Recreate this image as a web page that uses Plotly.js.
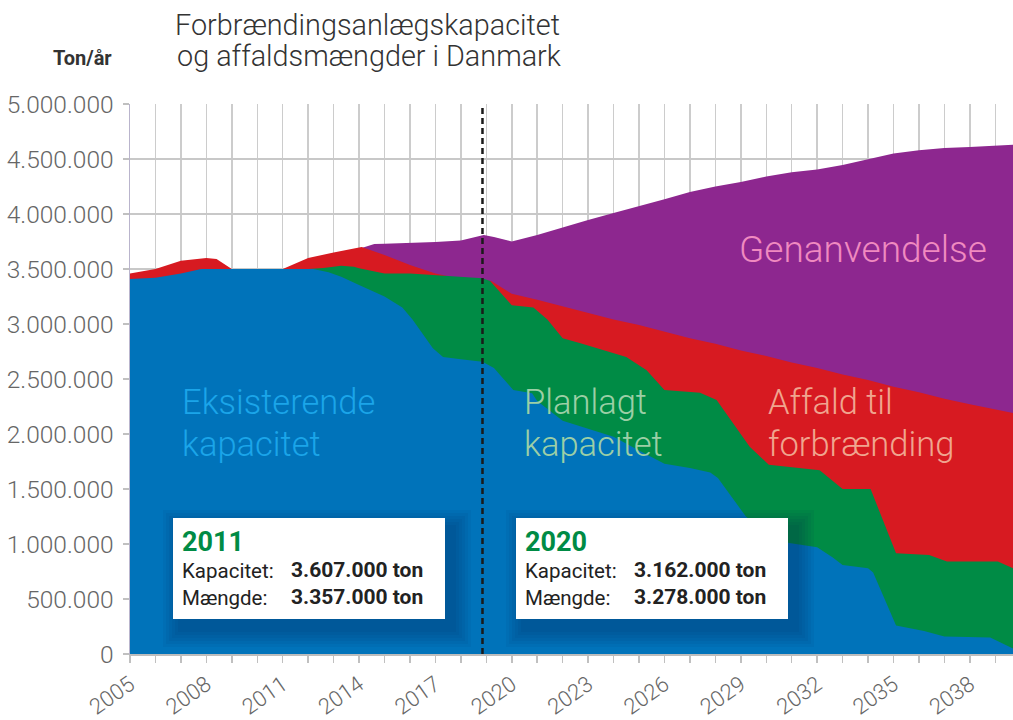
<!DOCTYPE html>
<html>
<head>
<meta charset="utf-8">
<script src="https://cdn.plot.ly/plotly-3.0.1.min.js"></script>
<style>html,body{margin:0;padding:0;background:#fff;}#chart{width:1013px;height:720px;}</style>
</head>
<body>
<div id="chart"></div>
<script>
// ---- Data (values in tons per year) ----
const existingYears = [2005, 2006, 2007, 2007.8, 2008, 2012.2, 2012.8, 2013.3, 2014, 2015, 2015.7, 2016.1, 2016.9, 2017.3, 2018, 2018.85, 2019.3, 2020.06, 2020.8, 2021, 2022, 2023, 2024, 2025, 2026, 2027, 2027.8, 2028.1, 2029.2, 2030.3, 2030.9, 2032.0, 2032.6, 2033.0, 2034.0, 2034.2, 2035.1, 2036.2, 2037.0, 2038.8, 2039.7];
const existingCap = [3410000, 3420000, 3460000, 3500000, 3500000, 3500000, 3470000, 3430000, 3355000, 3250000, 3150000, 3040000, 2780000, 2700000, 2680000, 2657000, 2600000, 2400000, 2370000, 2300000, 2120000, 2050000, 1975000, 1850000, 1730000, 1690000, 1650000, 1600000, 1250000, 1040000, 1010000, 970000, 880000, 810000, 780000, 740000, 260000, 210000, 160000, 150000, 50000];

const totalCapYears = [2012.0, 2012.6, 2013.3, 2013.8, 2014, 2015, 2016, 2017, 2018, 2018.85, 2019.15, 2020.0, 2020.85, 2021.4, 2022.0, 2022.7, 2024.5, 2025.3, 2026.0, 2027.4, 2028.05, 2029.35, 2030.1, 2032.1, 2033.0, 2034.1, 2035.1, 2036.4, 2037.1, 2039.1, 2039.7];
const totalCap = [3500000, 3510000, 3530000, 3520000, 3506000, 3460000, 3460000, 3445000, 3424000, 3415000, 3390000, 3170000, 3150000, 3040000, 2870000, 2825000, 2700000, 2580000, 2400000, 2375000, 2310000, 1885000, 1720000, 1670000, 1500000, 1500000, 915000, 900000, 840000, 840000, 780000];

const wasteYears = [2005, 2006, 2007, 2008, 2008.4, 2009, 2011, 2012, 2013, 2014.1, 2015, 2016, 2017, 2018, 2019.2, 2020, 2021, 2022, 2023, 2024, 2025, 2026, 2027, 2028, 2029, 2030, 2031, 2032, 2033, 2034, 2035, 2036, 2037, 2038, 2039, 2039.7];
const wasteIncineration = [3460000, 3500000, 3575000, 3600000, 3590000, 3500000, 3500000, 3600000, 3650000, 3700000, 3627000, 3536000, 3460000, 3410000, 3390000, 3275000, 3220000, 3160000, 3100000, 3040000, 2990000, 2930000, 2870000, 2820000, 2760000, 2710000, 2650000, 2600000, 2540000, 2490000, 2430000, 2380000, 2320000, 2270000, 2220000, 2190000];

const recycleYears = [2014.1, 2014.6, 2015, 2016, 2017, 2018, 2018.4, 2018.9, 2019.3, 2020, 2021, 2022, 2023, 2024, 2025, 2026, 2027, 2028, 2029, 2030, 2031, 2032, 2033, 2034, 2035, 2036, 2037, 2038, 2039, 2039.7];
const wasteTotal = [3690000, 3727000, 3730000, 3735000, 3745000, 3760000, 3780000, 3810000, 3790000, 3750000, 3810000, 3880000, 3945000, 4010000, 4070000, 4135000, 4200000, 4250000, 4290000, 4340000, 4380000, 4405000, 4445000, 4500000, 4550000, 4580000, 4600000, 4610000, 4625000, 4630000];

const tickYears = [2005,2006,2007,2008,2009,2010,2011,2012,2013,2014,2015,2016,2017,2018,2019,2020,2021,2022,2023,2024,2025,2026,2027,2028,2029,2030,2031,2032,2033,2034,2035,2036,2037,2038,2039];
const labelYears = [2005, 2008, 2011, 2014, 2017, 2020, 2023, 2026, 2029, 2032, 2035, 2038];
const markerYear = 2018.85;

const titleLine1 = 'Forbrændingsanlægskapacitet';
const titleLine2 = 'og affaldsmængder i Danmark';
const box2011 = {year: '2011', kapacitet: '3.607.000 ton', maengde: '3.357.000 ton'};
const box2020 = {year: '2020', kapacitet: '3.162.000 ton', maengde: '3.278.000 ton'};

// ---- Styling ----
const C = {blue: '#0073ba', green: '#008b45', red: '#d71a21', purple: '#8d278f'};
const FONT = 'Roboto, "Liberation Sans", Arial, sans-serif';

function area(x, y, color) {
  return {x: x, y: y, type: 'scatter', mode: 'lines', fill: 'tozeroy',
          fillcolor: color, line: {width: 0, color: color}, hoverinfo: 'skip'};
}
const traces = [
  area(recycleYears, wasteTotal, C.purple),
  area(wasteYears, wasteIncineration, C.red),
  area(totalCapYears, totalCap, C.green),
  area(existingYears, existingCap, C.blue)
];

// pixel helpers (plot area: x 130..1013, y 104..654)
const L = 130, R = 1013, T = 104, B = 654;
const px = p => (p - L) / (R - L);
const py = p => (B - p) / (B - T);

const annotations = [];
function label(text, xPix, baseline, size, color, opts) {
  opts = opts || {};
  annotations.push(Object.assign({
    text: text, xref: 'paper', yref: 'paper', x: px(xPix), y: py(baseline - size * 0.36),
    xanchor: 'left', yanchor: 'middle', showarrow: false,
    font: {family: FONT, size: size, color: color, weight: opts.weight || 300}
  }, opts.extra || {}));
}
const BIG = 34.5;
label('Eksisterende', 180, 414, BIG, '#1ba5e9');
label('kapacitet', 180, 456, BIG, '#1ba5e9');
label('Planlagt', 522, 414, BIG, '#9ccfa6');
label('kapacitet', 522, 456, BIG, '#9ccfa6');
label('Affald til', 766, 414, BIG, '#f0a58f');
label('forbrænding', 766, 456, BIG, '#f0a58f');
label('Genanvendelse', 737, 263, 37, '#f08ac0');

const shapes = [];
function infoBox(b, x0) {
  const w = 272, y0 = 518, h = 101;
  for (let k = 6; k >= 1; k--) {
    const g = k * 3;
    shapes.push({type: 'rect', xref: 'paper', yref: 'paper', layer: 'above',
      x0: px(x0 + 8 - g), x1: px(x0 + w + 8 + g), y0: py(y0 + h + 10 + g), y1: py(y0 + 10 - g),
      fillcolor: 'rgba(8,40,80,0.06)', line: {width: 0}});
  }
  shapes.push({type: 'rect', xref: 'paper', yref: 'paper', layer: 'above',
    x0: px(x0), x1: px(x0 + w), y0: py(y0 + h), y1: py(y0),
    fillcolor: '#ffffff', line: {width: 0}});
  label('<b>' + b.year + '</b>', x0 + 7, 552, 27, '#008b45', {weight: 700});
  label('Kapacitet:', x0 + 7, 578, 20.5, '#222', {weight: 400});
  label('Mængde:', x0 + 7, 605, 20.5, '#222', {weight: 400});
  label('<b>' + b.kapacitet + '</b>', x0 + 116, 578, 21, '#222', {weight: 700});
  label('<b>' + b.maengde + '</b>', x0 + 116, 605, 21, '#222', {weight: 700});
}
infoBox(box2011, 173);
infoBox(box2020, 516);

shapes.push({type: 'line', xref: 'x', yref: 'paper', x0: markerYear, x1: markerYear, y0: 0, y1: 1,
  layer: 'above', line: {color: '#1a1a1a', width: 2.5, dash: '6px,4px'}});

annotations.push({text: '<b>Ton/år</b>', xref: 'paper', yref: 'paper', x: px(51), y: py(58),
  xanchor: 'left', yanchor: 'middle', showarrow: false,
  font: {family: FONT, size: 20, color: '#333', weight: 700}});
annotations.push({text: titleLine2, xref: 'paper', yref: 'paper', x: px(175), y: py(56),
  xanchor: 'left', yanchor: 'middle', showarrow: false,
  font: {family: FONT, size: 28.8, color: '#333', weight: 300}});

const layout = {
  width: 1013, height: 720,
  margin: {l: L, r: 1013 - R, t: T, b: 720 - B},
  paper_bgcolor: '#fff', plot_bgcolor: '#fff',
  showlegend: false, hovermode: false,
  separators: ',.',
  title: {text: titleLine1,
    x: 175 / 1013, xanchor: 'left', xref: 'container', y: 1 - 25 / 720, yanchor: 'middle', yref: 'container',
    font: {family: FONT, size: 28.8, color: '#333', weight: 300}},
  xaxis: {
    range: [2005, 2005 + (R - L) / 25.45],
    tickmode: 'array', tickvals: tickYears,
    ticktext: tickYears.map(y => labelYears.includes(y) ? String(y) : ''),
    tickangle: -35, ticks: 'outside', ticklen: 7, tickwidth: 1.5, tickcolor: '#c0c0c0',
    tickfont: {family: FONT, size: 22, color: '#666', weight: 300},
    showgrid: true, gridcolor: '#cccccc', gridwidth: 1.5,
    showline: true, linecolor: '#bdbdbd', linewidth: 2,
    zeroline: false, fixedrange: true
  },
  yaxis: {
    range: [0, 5000000], dtick: 500000, tick0: 0, tickformat: ',d',
    ticks: 'outside', ticklen: 6, tickwidth: 1.5, tickcolor: '#c0c0c0',
    tickfont: {family: FONT, size: 24.5, color: '#666', weight: 300},
    showgrid: true, gridcolor: '#c8c8c8', gridwidth: 2.5,
    showline: true, linecolor: '#b9b4cc', linewidth: 1.5,
    zeroline: false, fixedrange: true, ticklabelstandoff: 4
  },
  shapes: shapes,
  annotations: annotations
};

Plotly.newPlot('chart', traces, layout, {displayModeBar: false, staticPlot: true});
</script>
</body>
</html>
